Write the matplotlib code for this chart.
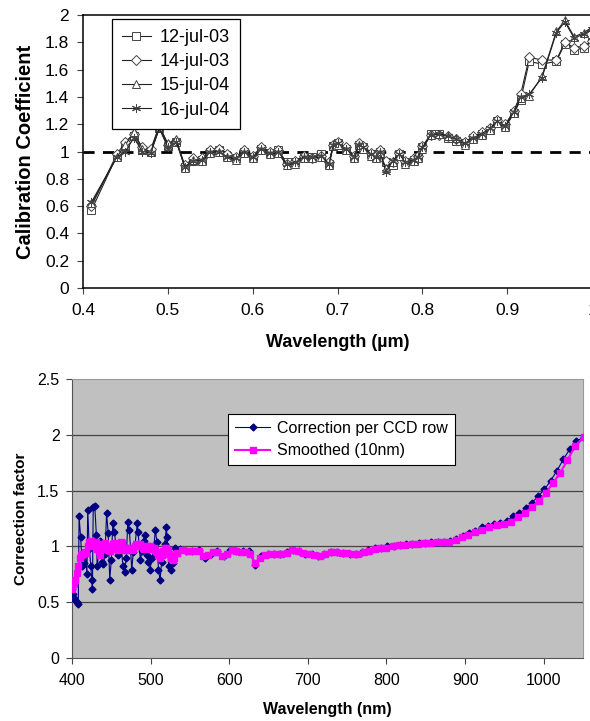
import numpy as np
import matplotlib
matplotlib.use('Agg')
import matplotlib.pyplot as plt
from matplotlib.ticker import FuncFormatter

plt.rcParams['font.family'] = ['Liberation Sans', 'DejaVu Sans']

# ---------------- top panel data ----------------
x_top = [0.41, 0.44, 0.45, 0.46, 0.47, 0.48, 0.49, 0.50, 0.51, 0.52, 0.53, 0.54, 0.55, 0.56,
         0.57, 0.58, 0.59, 0.60, 0.61, 0.62, 0.63, 0.64, 0.65, 0.66, 0.67, 0.68, 0.69, 0.695,
         0.70, 0.71, 0.72, 0.725, 0.73, 0.74, 0.745, 0.75, 0.757, 0.765, 0.773, 0.78, 0.79,
         0.795, 0.80, 0.81, 0.82, 0.83, 0.84, 0.85, 0.86, 0.87, 0.88, 0.888, 0.898, 0.908,
         0.916, 0.926, 0.941, 0.958, 0.968, 0.979, 0.99, 1.0]

jul12_03 = [0.57, 0.97, 1.04, 1.11, 1.01, 1.00, 1.17, 1.04, 1.07, 0.89, 0.93, 0.94, 1.00, 1.01,
            0.97, 0.95, 1.00, 0.96, 1.02, 0.99, 1.01, 0.92, 0.92, 0.96, 0.96, 0.98, 0.91, 1.04,
            1.06, 1.02, 0.96, 1.05, 1.03, 0.98, 0.96, 1.00, 0.92, 0.90, 0.98, 0.92, 0.94,
            0.96, 1.03, 1.13, 1.13, 1.10, 1.08, 1.06, 1.10, 1.13, 1.16, 1.22, 1.19, 1.28,
            1.38, 1.66, 1.64, 1.66, 1.79, 1.74, 1.76, 1.80]
jul14_03 = [0.60, 0.98, 1.07, 1.13, 1.03, 1.02, 1.19, 1.05, 1.08, 0.90, 0.95, 0.95, 1.01, 1.02,
            0.98, 0.96, 1.01, 0.97, 1.03, 1.00, 1.01, 0.91, 0.93, 0.97, 0.95, 0.97, 0.92, 1.05,
            1.07, 1.03, 0.97, 1.06, 1.04, 0.99, 0.97, 1.01, 0.93, 0.92, 0.99, 0.93, 0.95,
            0.97, 1.04, 1.12, 1.12, 1.11, 1.09, 1.07, 1.11, 1.14, 1.17, 1.23, 1.20, 1.30,
            1.42, 1.69, 1.67, 1.67, 1.80, 1.76, 1.77, 1.81]
jul15_04 = [0.62, 0.96, 1.05, 1.14, 1.02, 1.00, 1.18, 1.06, 1.09, 0.88, 0.94, 0.93, 0.99, 1.00,
            0.96, 0.94, 0.99, 0.95, 1.01, 0.98, 0.99, 0.90, 0.91, 0.95, 0.95, 0.96, 0.90, 1.04,
            1.05, 1.01, 0.95, 1.05, 1.02, 0.97, 0.95, 0.99, 0.88, 0.92, 0.97, 0.91, 0.93,
            0.95, 1.02, 1.12, 1.13, 1.11, 1.10, 1.05, 1.09, 1.12, 1.16, 1.21, 1.18, 1.28,
            1.39, 1.41, 1.55, 1.88, 1.96, 1.84, 1.87, 1.91]
jul16_04 = [0.63, 0.96, 1.00, 1.10, 1.00, 0.99, 1.17, 1.03, 1.07, 0.89, 0.93, 0.94, 1.00, 1.00,
            0.96, 0.95, 1.00, 0.96, 1.02, 0.99, 1.00, 0.91, 0.92, 0.96, 0.96, 0.97, 0.91, 1.05,
            1.06, 1.02, 0.96, 1.05, 1.03, 0.98, 0.96, 1.00, 0.85, 0.93, 0.98, 0.92, 0.94,
            0.96, 1.03, 1.12, 1.13, 1.11, 1.09, 1.06, 1.10, 1.13, 1.17, 1.22, 1.19, 1.29,
            1.40, 1.42, 1.54, 1.87, 1.95, 1.83, 1.86, 1.90]
top_labels = ['12-jul-03', '14-jul-03', '15-jul-04', '16-jul-04']

# ---------------- bottom panel data ----------------
raw_nm = [400, 401, 402, 404, 406, 408, 409, 411, 413, 415, 417, 419, 420, 422, 424, 425, 426,
          427, 429, 431, 432, 434, 436, 438, 440, 442, 444, 446, 448, 450, 452, 454, 456, 458,
          460, 462, 465, 467, 469, 471, 473, 476, 478, 480, 483, 484, 487, 489, 491, 493, 495,
          497, 499, 502, 504, 506, 508, 510, 512, 514, 516, 518, 520, 521, 523, 526, 528, 531,
          537, 545, 553, 561, 569, 577, 585, 593, 601, 609, 617, 625, 633, 641, 649, 657, 665,
          673, 681, 689, 697, 705, 713, 721, 729, 737, 745, 753, 761, 769, 777, 785, 793, 801,
          809, 817, 825, 833, 841, 849, 857, 865, 873, 881, 889, 897, 905, 913, 921, 929, 937,
          945, 953, 961, 969, 977, 985, 993, 1001, 1009, 1017, 1025, 1033, 1041, 1051]
raw_val = [0.62, 0.57, 0.54, 0.52, 0.50, 0.48, 1.27, 1.08, 0.82, 0.85, 0.93, 0.75, 1.33, 0.98,
           0.82, 0.70, 0.62, 1.35, 1.36, 1.10, 0.82, 0.95, 1.05, 0.86, 0.84, 0.93, 1.30, 1.12,
           0.70, 0.88, 1.21, 1.13, 1.00, 0.92, 0.95, 1.02, 0.82, 0.77, 0.90, 1.22, 1.15, 0.79,
           0.95, 1.00, 1.21, 1.13, 0.88, 0.96, 1.05, 1.10, 0.92, 0.86, 0.79, 0.90, 0.98, 1.15,
           1.04, 0.79, 0.70, 0.86, 0.95, 1.02, 1.17, 1.08, 0.82, 0.79, 0.85, 0.99,
           0.98, 0.96, 0.96, 0.97, 0.90, 0.93, 0.96, 0.91, 0.97, 0.96, 0.96, 0.96, 0.83, 0.91,
           0.93, 0.93, 0.93, 0.95, 0.97, 0.96, 0.93, 0.93, 0.91, 0.93, 0.95, 0.95, 0.94, 0.93,
           0.93, 0.95, 0.97, 0.99, 0.99, 1.00, 1.00, 1.01, 1.02, 1.02, 1.03, 1.03, 1.04, 1.04,
           1.04, 1.05, 1.07, 1.09, 1.12, 1.14, 1.17, 1.18, 1.20, 1.21, 1.23, 1.27, 1.30, 1.34,
           1.39, 1.45, 1.51, 1.59, 1.68, 1.78, 1.87, 1.94, 1.98]

smooth_nm = [400, 402, 404, 406, 408, 410, 412, 414, 416, 418, 420, 422, 424, 426, 428, 430,
             432, 434, 436, 438, 440, 442, 444, 446, 448, 450, 452, 454, 456, 458, 460, 462,
             464, 466, 468, 470, 472, 474, 476, 478, 480, 482, 484, 486, 488, 490, 492, 494,
             496, 498, 500, 502, 504, 506, 508, 510, 512, 514, 516, 518, 520, 522, 524, 526,
             528, 530, 534, 540, 547, 554, 561, 567, 573, 579, 585, 591, 597, 603, 609, 615,
             621, 627, 633, 639, 645, 652, 659, 666, 673, 680, 687, 694, 701, 708, 715, 722,
             729, 736, 743, 750, 757, 764, 771, 778, 785, 792, 800, 808, 816, 824, 832, 840,
             848, 856, 864, 872, 880, 888, 896, 904, 913, 922, 931, 940, 949, 958, 967, 976,
             985, 994, 1003, 1012, 1021, 1030, 1040, 1051]
smooth_val = [0.62, 0.66, 0.70, 0.76, 0.82, 0.90, 0.92, 0.93, 0.95, 0.94, 1.00, 1.04, 1.05,
              1.00, 1.02, 1.04, 0.98, 0.96, 0.92, 0.98, 1.02, 1.03, 1.00, 0.97, 0.96, 0.98,
              1.02, 1.03, 1.01, 0.97, 1.00, 1.04, 1.03, 0.99, 0.97, 0.97, 0.99, 0.99, 0.97,
              0.98, 1.00, 1.02, 1.01, 1.02, 1.00, 0.99, 0.98, 0.99, 1.00, 1.00, 0.98, 0.99,
              0.99, 0.97, 0.95, 0.92, 0.90, 0.92, 0.96, 0.99, 0.99, 0.97, 0.93, 0.90, 0.88,
              0.90, 0.94, 0.97, 0.96, 0.96, 0.96, 0.91, 0.92, 0.95, 0.95, 0.91, 0.93, 0.97,
              0.96, 0.95, 0.95, 0.93, 0.85, 0.90, 0.92, 0.93, 0.93, 0.93, 0.94, 0.97, 0.96,
              0.94, 0.93, 0.92, 0.91, 0.93, 0.95, 0.95, 0.94, 0.94, 0.93, 0.93, 0.95, 0.96,
              0.98, 0.99, 0.99, 1.00, 1.01, 1.01, 1.02, 1.02, 1.03, 1.03, 1.04, 1.04, 1.04,
              1.06, 1.08, 1.10, 1.13, 1.15, 1.17, 1.19, 1.20, 1.22, 1.26, 1.30, 1.35, 1.41,
              1.48, 1.57, 1.66, 1.77, 1.90, 1.98]

fig = plt.figure(figsize=(5.9, 7.21), dpi=100)

# top panel
ax1 = fig.add_axes([83/590, 1-288/721, 509/590, 273/721])
markers = ['s', 'D', '^', (6, 2, 0)]
sizes = [5.5, 5, 6, 6.5]
for vals, lab, m, ms in zip([jul12_03, jul14_03, jul15_04, jul16_04], top_labels, markers, sizes):
    ax1.plot(x_top, vals, color='#222222', lw=0.8, marker=m, ms=ms,
             mfc='white', mec='#444444', mew=0.7, label=lab)
ax1.axhline(1.0, color='black', lw=2, ls=(0, (4, 3)), zorder=0)
ax1.set_xlim(0.4, 1.0)
ax1.set_ylim(0, 2)
ax1.set_xticks([0.4, 0.5, 0.6, 0.7, 0.8, 0.9, 1.0])
ax1.set_yticks(np.arange(0, 2.01, 0.2))
ax1.xaxis.set_major_formatter(FuncFormatter(lambda v, p: '%g' % round(v, 2)))
ax1.yaxis.set_major_formatter(FuncFormatter(lambda v, p: '%g' % round(v, 2)))
ax1.tick_params(labelsize=12.5, length=4, width=0.8, color='#444444', pad=6)
ax1.tick_params(axis='x', pad=7)
ax1.spines['right'].set_visible(False)
for s in ['left', 'bottom', 'top']:
    ax1.spines[s].set_linewidth(1.1)
ax1.set_xlabel('Wavelength (\u00b5m)', fontsize=13, fontweight='bold', labelpad=11)
ax1.set_ylabel('Calibration Coefficient', fontsize=14.5, fontweight='bold', labelpad=7)
leg1 = ax1.legend(loc='upper left', bbox_to_anchor=(0.057, 0.985), borderaxespad=0,
                  fontsize=13, fancybox=False, edgecolor='black', framealpha=1,
                  handlelength=1.6, handletextpad=0.5, labelspacing=0.4, borderpad=0.55)
leg1.get_frame().set_linewidth(0.9)

# bottom panel
ax2 = fig.add_axes([72/590, 1-658/721, 511/590, 279/721])
ax2.set_facecolor('#c0c0c0')
ax2.plot(raw_nm, raw_val, color='#000080', lw=0.8, marker='D', ms=3.5,
         label='Correction per CCD row', zorder=3)
ax2.plot(smooth_nm, smooth_val, color='#ff00ff', lw=1.5, marker='s', ms=4.5,
         label='Smoothed (10nm)', zorder=4)
ax2.set_xlim(400, 1050)
ax2.set_ylim(0, 2.5)
ax2.set_xticks(np.arange(400, 1001, 100))
ax2.set_yticks([0, 0.5, 1, 1.5, 2, 2.5])
ax2.yaxis.set_major_formatter(FuncFormatter(lambda v, p: '%g' % v))
for yv in [0.5, 1, 1.5, 2]:
    ax2.axhline(yv, color='#444444', lw=0.9, zorder=1)
ax2.tick_params(labelsize=11.5, length=4, width=0.8, color='#444444', pad=5)
ax2.tick_params(axis='x', pad=7)
ax2.spines['left'].set_color('#555555')
ax2.spines['bottom'].set_color('#555555')
ax2.spines['top'].set_color('#999999')
ax2.spines['right'].set_color('#999999')
ax2.set_xlabel('Wavelength (nm)', fontsize=11.5, fontweight='bold', labelpad=10)
ax2.set_ylabel('Correection factor', fontsize=11, fontweight='bold', labelpad=7)
leg2 = ax2.legend(loc='upper left', bbox_to_anchor=(0.305, 0.875), borderaxespad=0,
                  fontsize=11.5, fancybox=False, edgecolor='black', framealpha=1,
                  handlelength=2.2, handletextpad=0.4, labelspacing=0.45, borderpad=0.45)
leg2.get_frame().set_linewidth(0.8)

fig.savefig('out.png', dpi=100)
